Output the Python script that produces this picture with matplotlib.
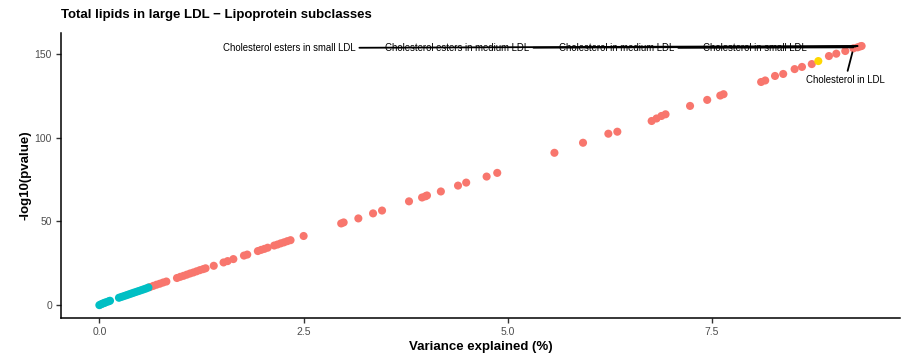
import matplotlib
matplotlib.use('Agg')
import matplotlib.pyplot as plt

plt.rcParams['font.family'] = ['Liberation Sans', 'DejaVu Sans']

# non-significant (cyan)
var_ns = [0.00, 0.02, 0.04, 0.06, 0.08, 0.11, 0.13,
          0.24, 0.27, 0.30, 0.33, 0.36, 0.39, 0.42, 0.45, 0.48, 0.51, 0.54, 0.57, 0.60]
logp_ns = [0.0, 0.5, 0.9, 1.3, 1.7, 2.2, 2.6,
           4.4, 4.9, 5.4, 5.9, 6.4, 6.9, 7.4, 7.9, 8.4, 8.9, 9.4, 9.9, 10.5]

# significant (red)
var_sig = [0.62, 0.66, 0.70, 0.74, 0.78, 0.82,
           0.95, 0.99, 1.03, 1.07, 1.11, 1.15, 1.19, 1.23, 1.27, 1.30,
           1.40, 1.52, 1.57, 1.64, 1.77, 1.81,
           1.94, 1.98, 2.02, 2.06, 2.14, 2.18, 2.22, 2.26, 2.30, 2.34, 2.50,
           2.96, 2.99, 3.17, 3.35, 3.46, 3.79, 3.95, 3.99, 4.01, 4.18, 4.39, 4.49,
           4.74, 4.87, 5.57, 5.92, 6.23, 6.34, 6.76, 6.82, 6.88, 6.93,
           7.23, 7.44, 7.60, 7.64, 8.10, 8.15, 8.27, 8.37, 8.51, 8.60, 8.72,
           8.93, 9.02, 9.13, 9.23, 9.28, 9.31, 9.33]
logp_sig = [10.8, 11.5, 12.2, 12.8, 13.5, 14.1,
            16.2, 16.9, 17.5, 18.2, 18.9, 19.5, 20.2, 20.9, 21.5, 22.0,
            23.5, 25.5, 26.3, 27.5, 29.6, 30.2,
            32.3, 33.0, 33.6, 34.3, 35.6, 36.2, 36.9, 37.5, 38.2, 38.8, 41.3,
            48.8, 49.4, 51.8, 54.8, 56.5, 62.0, 64.3, 65.0, 65.5, 67.9, 71.4, 73.2,
            76.8, 79.0, 91.0, 97.0, 102.4, 103.6, 110.0, 111.5, 113.0, 114.0,
            119.0, 122.6, 125.2, 126.0, 133.3, 134.2, 136.9, 138.1, 141.0, 142.3, 144.0,
            148.8, 150.2, 151.8, 153.4, 154.0, 154.5, 154.8]

# highlighted trait (yellow)
var_hl = [8.80]
logp_hl = [145.8]

# labelled points
lab_names = ['Cholesterol esters in small LDL', 'Cholesterol esters in medium LDL',
             'Cholesterol in medium LDL', 'Cholesterol in small LDL', 'Cholesterol in LDL']
lab_var = [9.33, 9.31, 9.28, 9.33, 9.23]
lab_logp = [154.8, 154.5, 154.0, 154.8, 153.4]
lab_tx = [2.32, 4.38, 6.33, 8.02, 9.13]
lab_ty = [153.6, 153.6, 153.6, 153.6, 134.5]

fig = plt.figure(figsize=(9.14, 3.56), dpi=100)
ax = fig.add_axes([0.0667, 0.1067, 0.918, 0.8003])

ax.scatter(var_sig, logp_sig, s=34, color='#F8766D', edgecolors='none', zorder=2)
ax.scatter(var_ns, logp_ns, s=34, color='#00BFC4', edgecolors='none', zorder=2)
ax.scatter(var_hl, logp_hl, s=34, color='#FFD700', edgecolors='none', zorder=3)

for name, x, y, tx, ty in zip(lab_names, lab_var, lab_logp, lab_tx, lab_ty):
    ax.annotate(name, xy=(x, y), xytext=(tx, ty), textcoords='data',
                ha='center', va='center', fontsize=6.9, color='black',
                arrowprops=dict(arrowstyle='-', color='black', lw=1.3,
                                shrinkA=1, shrinkB=3), zorder=4)

ax.set_xlim(-0.47, 9.80)
ax.set_ylim(-7.7, 162.5)
ax.set_xticks([0, 2.5, 5.0, 7.5])
ax.set_xticklabels(['0.0', '2.5', '5.0', '7.5'])
ax.set_yticks([0, 50, 100, 150])

for s in ['top', 'right']:
    ax.spines[s].set_visible(False)
for s in ['left', 'bottom']:
    ax.spines[s].set_linewidth(1.1)
    ax.spines[s].set_color('black')
ax.tick_params(axis='both', length=3.5, width=1, color='#333333',
               labelcolor='#4D4D4D', labelsize=7.5, pad=3)

ax.set_xlabel('Variance explained (%)', fontsize=9.5, fontweight='bold', labelpad=3)
ax.set_ylabel('-log10(pvalue)', fontsize=9.5, fontweight='bold', labelpad=2)
fig.text(0.0667, 0.958, 'Total lipids in large LDL \u2212 Lipoprotein subclasses',
         fontsize=9.5, fontweight='bold', ha='left', va='center')

fig.savefig('out.png', dpi=100)
